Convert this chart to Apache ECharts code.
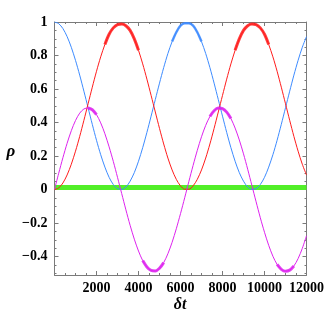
<!DOCTYPE html>
<html><head><meta charset="utf-8">
<script src="https://cdn.jsdelivr.net/npm/echarts@6/dist/echarts.min.js"></script>
<style>html,body{margin:0;padding:0;background:#fff}#c{width:327px;height:327px}</style>
</head><body><div id="c"></div>
<script>
const tValues = [0,200,400,600,800,1000,1200,1400,1600,1800,2000,2200,2400,2600,2800,3000,3200,3400,3600,3800,4000,4200,4400,4600,4800,5000,5200,5400,5600,5800,6000,6200,6400,6600,6800,7000,7200,7400,7600,7800,8000,8200,8400,8600,8800,9000,9200,9400,9600,9800,10000,10200,10400,10600,10800,11000,11200,11400,11600,11800,12000];
const blueValues = [1.000,0.990,0.961,0.913,0.849,0.771,0.683,0.587,0.488,0.389,0.294,0.208,0.134,0.073,0.030,0.006,0.001,0.015,0.050,0.101,0.169,0.250,0.341,0.438,0.537,0.635,0.728,0.812,0.883,0.939,0.978,0.992,0.992,0.978,0.939,0.883,0.812,0.728,0.635,0.537,0.438,0.341,0.250,0.169,0.101,0.050,0.015,0.001,0.006,0.030,0.073,0.134,0.208,0.294,0.389,0.488,0.587,0.683,0.771,0.849,0.913];
const redValues = [0.000,0.010,0.039,0.087,0.151,0.229,0.317,0.413,0.512,0.611,0.706,0.792,0.866,0.927,0.965,0.985,0.988,0.978,0.950,0.899,0.831,0.750,0.659,0.562,0.463,0.365,0.272,0.188,0.117,0.061,0.022,0.002,0.002,0.022,0.061,0.117,0.188,0.272,0.365,0.463,0.562,0.659,0.750,0.831,0.899,0.950,0.978,0.988,0.985,0.965,0.927,0.866,0.792,0.706,0.611,0.512,0.413,0.317,0.229,0.151,0.087];
const magentaValues = [0.000,0.097,0.190,0.276,0.351,0.412,0.456,0.481,0.487,0.476,0.447,0.398,0.333,0.255,0.168,0.073,-0.024,-0.121,-0.213,-0.296,-0.367,-0.424,-0.462,-0.483,-0.486,-0.470,-0.436,-0.383,-0.315,-0.234,-0.144,-0.049,0.049,0.144,0.234,0.315,0.383,0.436,0.470,0.486,0.483,0.462,0.424,0.367,0.296,0.213,0.121,0.024,-0.073,-0.168,-0.255,-0.333,-0.398,-0.447,-0.476,-0.487,-0.481,-0.456,-0.412,-0.351,-0.276];
const greenT = [0,12000];
const greenValues = [0.012,0.012];
const yMajor = [-0.4,-0.2,0,0.2,0.4,0.6,0.8,1];
const yMinor = [-0.5,-0.45,-0.35,-0.3,-0.25,-0.15,-0.1,-0.05,0.05,0.1,0.15,0.25,0.3,0.35,0.45,0.5,0.55,0.65,0.7,0.75,0.85,0.9,0.95];

const FRAME = '#7a7a7a';
const FONT = '"Liberation Serif", "DejaVu Serif", serif';
const pairs = (xs, ys) => xs.map((x, i) => [x, ys[i]]);
// noisy band only on the interior peaks
const band = (xs, ys, test) => xs.map((x, i) => [x, (x > 1500 && x < 11500 && test(ys[i])) ? ys[i] : null]);

function xAx(pos, labels) {
  return {
    type: 'value', position: pos, min: 0, max: 12000, interval: 2000,
    axisLine: {show: true, onZero: false, lineStyle: {color: FRAME, width: 1}},
    axisTick: {show: true, inside: true, length: 4, lineStyle: {color: FRAME}},
    minorTick: {show: true, splitNumber: 4, length: 2, lineStyle: {color: FRAME}},
    splitLine: {show: false}, minorSplitLine: {show: false},
    axisLabel: {show: labels, showMinLabel: false, margin: 6, color: '#000',
      fontFamily: FONT, fontWeight: 'bold', fontSize: 14, formatter: v => String(v)}
  };
}
function yAx(pos, labels, values, len, line) {
  return {
    type: 'value', position: pos, min: -0.51, max: 1,
    axisLine: {show: line, onZero: false, lineStyle: {color: FRAME, width: 1}},
    axisTick: {show: true, inside: true, length: len, customValues: values, lineStyle: {color: FRAME}},
    splitLine: {show: false},
    axisLabel: {show: labels, customValues: values, margin: 7, color: '#000',
      fontFamily: FONT, fontWeight: 'bold', fontSize: 14,
      formatter: v => String(v).replace('-', '\u2212')}
  };
}

const chart = echarts.init(document.getElementById('c'), null, {renderer: 'canvas'});
const lineS = (data, color, w, z, op) => ({
  type: 'line', data, smooth: 0.3, showSymbol: false, symbol: 'none', connectNulls: false,
  lineStyle: {color, width: w, opacity: op == null ? 1 : op}, z, silent: true, animation: false
});
chart.setOption({
  animation: false,
  grid: {left: 54.5, right: 20, top: 22, bottom: 52, containLabel: false},
  xAxis: [xAx('bottom', true), xAx('top', false)],
  yAxis: [
    yAx('left', true, yMajor, 4, true),
    yAx('right', false, yMajor, 4, true),
    yAx('left', false, yMinor, 2, false),
    yAx('right', false, yMinor, 2, false)
  ],
  graphic: [
    {type: 'text', x: 180, y: 305, style: {text: '\u03b4t', font: 'italic bold 16px "Liberation Serif"', fill: '#000', textAlign: 'center', textVerticalAlign: 'middle'}},
    {type: 'text', x: 11, y: 152, style: {text: '\u03c1', font: 'italic bold 17px "Liberation Serif"', fill: '#000', textAlign: 'center', textVerticalAlign: 'middle'}}
  ],
  series: [
    lineS(pairs(greenT, greenValues), '#52ef28', 5, 2),
    lineS(pairs(tValues, blueValues), '#3d8bff', 1, 3),
    lineS(band(tValues, blueValues, v => v > 0.82), '#3d8bff', 2.5, 3, 0.85),
    lineS(pairs(tValues, redValues), '#ff1c1c', 1, 4),
    lineS(band(tValues, redValues, v => v > 0.8), '#ff1c1c', 3, 4, 0.85),
    lineS(pairs(tValues, magentaValues), '#dd22ee', 1, 5),
    lineS(band(tValues, magentaValues, v => Math.abs(v) > 0.42), '#dd22ee', 3, 5, 0.85)
  ]
});
</script></body></html>
